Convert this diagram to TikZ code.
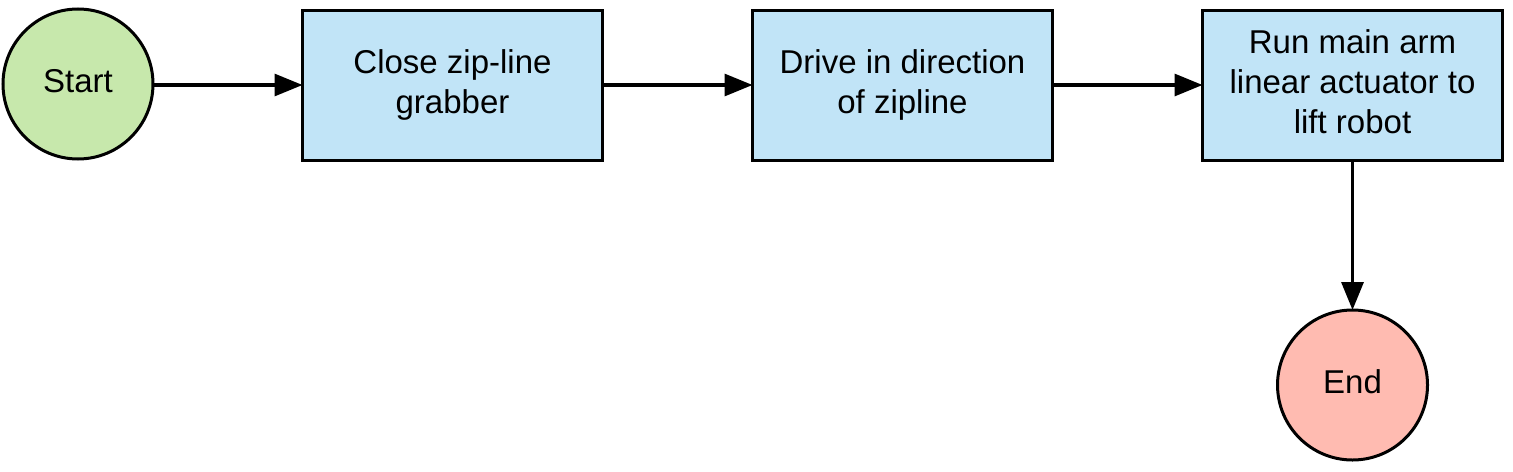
\documentclass[tikz,border=0pt]{standalone}
\usepackage{fontspec}
\setmainfont{Liberation Sans}
\usetikzlibrary{arrows.meta}
\definecolor{startgreen}{HTML}{C7E8AC}
\definecolor{stepblue}{HTML}{C1E4F7}
\definecolor{endred}{HTML}{FFBBB1}
\begin{document}
\begin{tikzpicture}[x=0.5pt,y=-0.5pt,
  every node/.style={font=\fontsize{16.5pt}{20pt}\selectfont, align=center, inner sep=0pt, outer sep=0pt},
  termnode/.style={circle, draw=black, line width=1.5pt, minimum size=75pt},
  stepbox/.style={rectangle, draw=black, line width=1.5pt, fill=stepblue, minimum width=150pt, minimum height=75pt},
  flow/.style={line width=1.6pt, -{Triangle[length=14pt,width=11pt]}}]
\useasboundingbox (0,0) rectangle (1513,471);
\node[termnode, fill=startgreen] (start) at (78,84) {Start\vphantom{g}};
\node[stepbox] (b1) at (452.5,85) {Close zip-line\\grabber};
\node[stepbox] (b2) at (902.5,85) {Drive in direction\\of zipline};
\node[stepbox] (b3) at (1352.5,85) {Run main arm\\linear actuator to\\lift robot\vphantom{g}};
\node[termnode, fill=endred] (end) at (1352.5,385) {End\vphantom{g}};
\draw[flow] (start.east |- b1.west) -- (b1.west);
\draw[flow] (b1.east) -- (b2.west);
\draw[flow] (b2.east) -- (b3.west);
\draw[flow] (b3.south) -- (end.north);
\end{tikzpicture}
\end{document}
